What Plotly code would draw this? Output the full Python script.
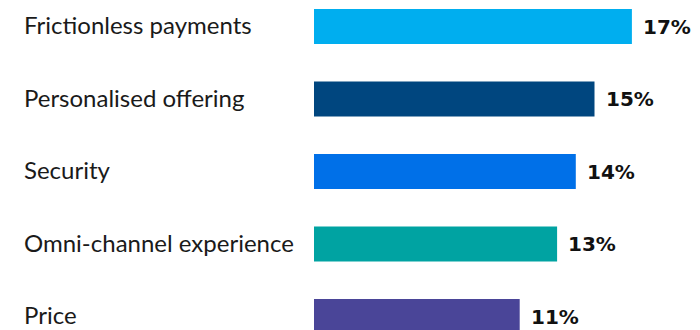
import plotly.graph_objects as go

# Share of respondents naming each factor
categories = [
    "Frictionless payments",
    "Personalised offering",
    "Security",
    "Omni-channel experience",
    "Price",
]
values = [17, 15, 14, 13, 11]
value_labels = ["17%", "15%", "14%", "13%", "11%"]
colors = ["#00AEEF", "#00467F", "#0070E8", "#00A3A2", "#4A4598"]

positions = list(range(len(categories)))

fig = go.Figure(
    go.Bar(
        x=values,
        y=positions,
        orientation="h",
        marker=dict(color=colors, line=dict(width=0)),
        width=0.483,
        hoverinfo="skip",
    )
)

annotations = []
for pos, cat in zip(positions, categories):
    annotations.append(
        dict(
            x=-292 / 386, xref="paper", y=pos, yref="y",
            text=cat, showarrow=False, xanchor="left", yanchor="middle",
            yshift=2,
            font=dict(family="Lato", size=24, color="#1a1a1a"),
        )
    )
for pos, val, lab in zip(positions, values, value_labels):
    annotations.append(
        dict(
            x=val, xref="x", y=pos, yref="y",
            text=f"<b>{lab}</b>", showarrow=False, xanchor="left", yanchor="middle",
            xshift=9,
            font=dict(family="DejaVu Sans", size=20, color="#111111"),
        )
    )

fig.update_layout(
    width=700,
    height=330,
    margin=dict(l=314, r=0, t=0, b=0),
    paper_bgcolor="white",
    plot_bgcolor="white",
    showlegend=False,
    annotations=annotations,
    xaxis=dict(range=[0, 386 / 18.7], visible=False, fixedrange=True),
    yaxis=dict(range=[-0.3655 + 330 / 72.5, -0.3655], visible=False, fixedrange=True),
)

fig.write_html("out.html", config={"displayModeBar": False})
